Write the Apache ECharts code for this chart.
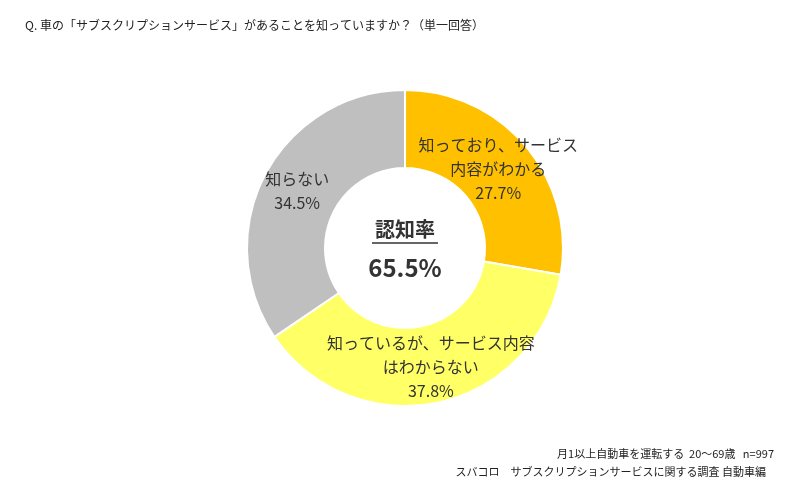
<!DOCTYPE html>
<html><head><meta charset="utf-8">
<script src="https://cdn.jsdelivr.net/npm/echarts@6/dist/echarts.min.js"></script>
<style>html,body{margin:0;background:#fff}#c{width:801px;height:491px}</style>
</head><body><div id="c"></div>
<script>
const names = ['知っており、サービス\n内容がわかる', '知っているが、サービス内容\nはわからない', '知らない'];
const values = [27.7, 37.8, 34.5];
const colors = ['#FFC000', '#FFFF66', '#BFBFBF'];
const awareness = '65.5%';

const font = '"Noto Sans CJK JP", sans-serif';
const chart = echarts.init(document.getElementById('c'));
chart.setOption({
  animation: false,
  textStyle: { fontFamily: font },
  title: [
    { text: 'Q. 車の「サブスクリプションサービス」があることを知っていますか？（単一回答）', left: 20, top: 14,
      textStyle: { fontSize: 12, fontWeight: 'normal', color: '#222', fontFamily: font } },
    { text: '月1以上自動車を運転する  20～69歳   n=997', right: 22, top: 443,
      textStyle: { fontSize: 11, fontWeight: 'normal', color: '#222', fontFamily: font } },
    { text: 'スバコロ　サブスクリプションサービスに関する調査 自動車編', right: 30, top: 461,
      textStyle: { fontSize: 11, fontWeight: 'normal', color: '#222', fontFamily: font } }
  ],
  graphic: [
    { type: 'text', x: 405, y: 229, style: { text: '認知率', fill: '#333', font: 'bold 20px ' + font, align: 'center', verticalAlign: 'middle' } },
    { type: 'line', shape: { x1: 372, y1: 243, x2: 438, y2: 243 }, style: { stroke: '#333', lineWidth: 1.5 } },
    { type: 'text', x: 405, y: 268, style: { text: awareness, fill: '#333', font: 'bold 24px ' + font, align: 'center', verticalAlign: 'middle' } }
  ],
  series: [{
    type: 'pie',
    center: [405, 248],
    radius: [80, 158],
    startAngle: 90,
    clockwise: true,
    itemStyle: { borderColor: '#fff', borderWidth: 2 },
    label: {
      show: true, position: 'inside', color: '#333', fontSize: 16, lineHeight: 24,
      fontFamily: font,
      formatter: p => p.name + '\n' + p.value.toFixed(1) + '%'
    },
    labelLine: { show: false },
    emphasis: { disabled: true },
    data: names.map((n, i) => ({ name: n, value: values[i], itemStyle: { color: colors[i] } }))
  }]
});
</script></body></html>
